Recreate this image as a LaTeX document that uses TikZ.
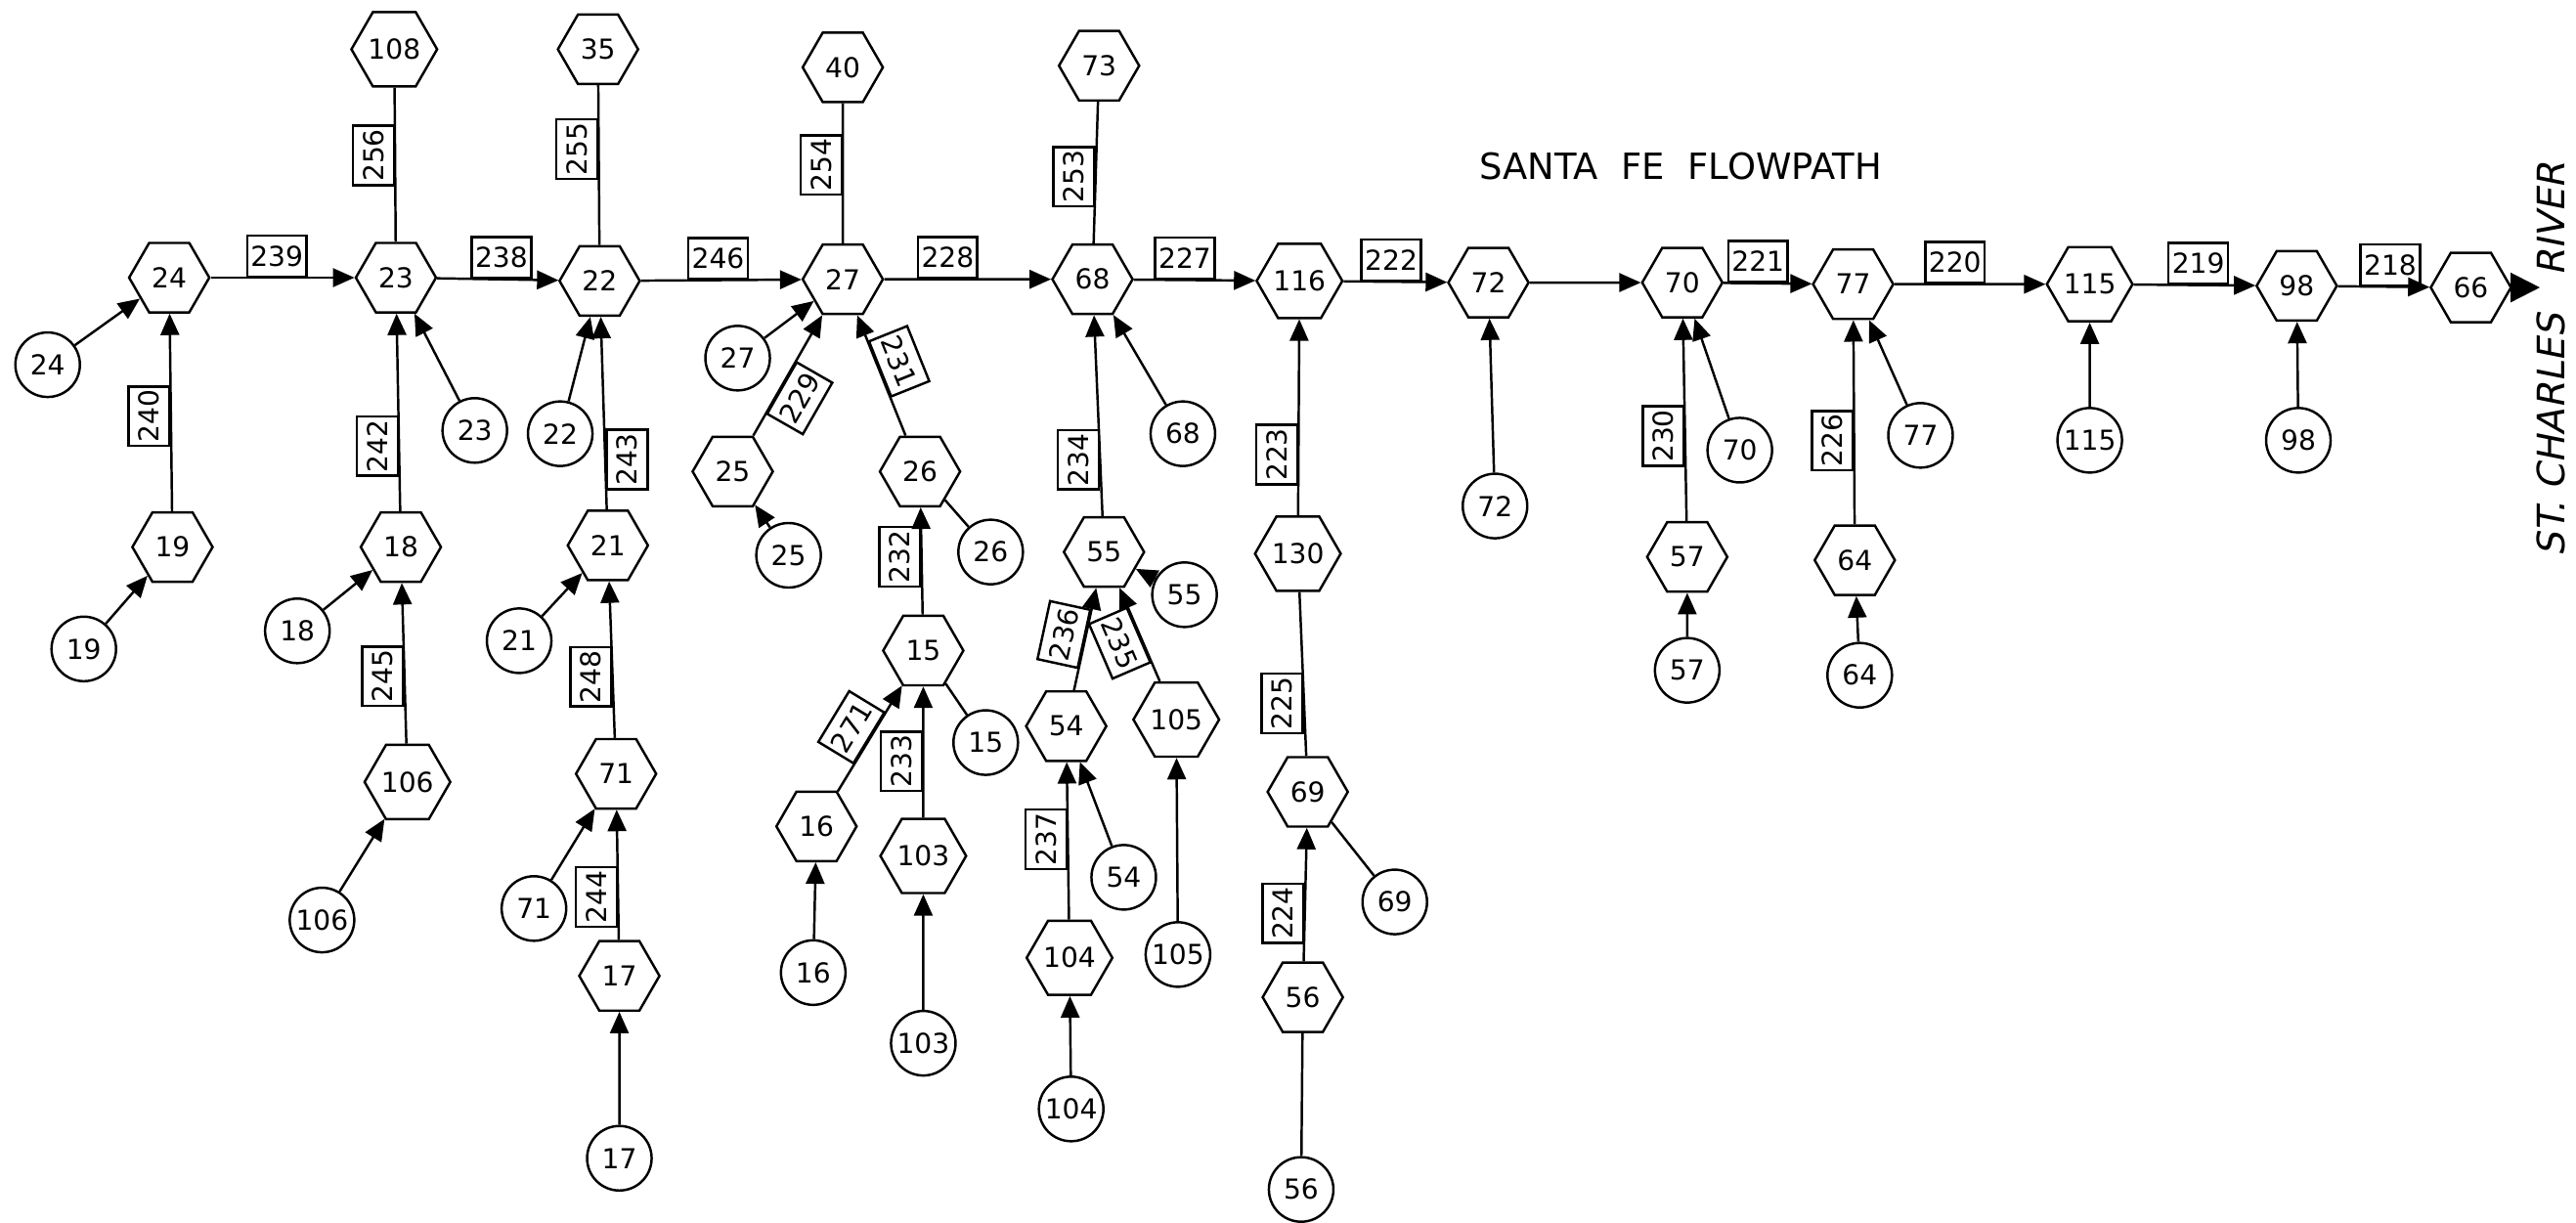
\documentclass[tikz,border=0pt]{standalone}
\usepackage{fontspec}
\setmainfont{DejaVu Sans}
\newfontfamily\slantfont[FakeSlant=0.2]{DejaVu Sans}
\usetikzlibrary{shapes.geometric,arrows.meta}

\tikzset{
  num/.style={font=\fontsize{8}{9}\selectfont},
  hx/.style={draw, num, regular polygon, regular polygon sides=6,
    minimum size=0.82cm, inner sep=0pt},
  cr/.style={draw, num, circle, minimum size=0.66cm, inner sep=0pt},
  lb/.style={draw, num, minimum width=0.6cm, minimum height=0.42cm, inner sep=1pt},
  hl/.style={lb, anchor=south},
  vl/.style={lb, rotate=90, anchor=south},
  vr/.style={lb, rotate=90, anchor=north},
  flow/.style={-{Triangle[length=0.22cm,width=0.19cm]}},
}

\begin{document}
\begin{tikzpicture}[x=0.016805cm, y=-0.016805cm, line width=0.7pt]
      \useasboundingbox (0,0) rectangle (1568,744);

      \node[hx] (H108) at (240,  30) {108};
      \node[hx] (H35)  at (364,  30) {35};
      \node[hx] (H40)  at (513,  41) {40};
      \node[hx] (H73)  at (669,  40) {73};

      \node[hx] (H24)  at (103,  169) {24};
      \node[hx] (H23)  at (241,  169) {23};
      \node[hx] (H22)  at (365,  171) {22};
      \node[hx] (H27)  at (513,  170) {27};
      \node[hx] (H68)  at (665,  170) {68};
      \node[hx] (H116) at (791,  171) {116};
      \node[hx] (H72)  at (906,  172) {72};
      \node[hx] (H70)  at (1024, 172) {70};
      \node[hx] (H77)  at (1128, 173) {77};
      \node[hx] (H115) at (1272, 173) {115};
      \node[hx] (H98)  at (1398, 174) {98};
      \node[hx] (H66)  at (1504, 175) {66};
      \coordinate (mouth) at (1546, 175);

      \node[font=\fontsize{10.5}{12}\selectfont] (title) at (1023, 101) {SANTA\ \ FE\ \ FLOWPATH};
      \node[rotate=90, font=\fontsize{11}{13}\selectfont\slantfont] (river) at (1553, 219)
        {ST.\ CHARLES\quad RIVER};

      \node[cr]  (C24)  at (29,  222) {24};
      \node[hx]  (H19)  at (105, 333) {19};
      \node[cr]  (C19)  at (51,  395) {19};
      \node[hx]  (H18)  at (244, 333) {18};
      \node[cr]  (C18)  at (181, 384) {18};
      \node[cr]  (C23)  at (289, 262) {23};
      \node[hx]  (H106) at (248, 476) {106};
      \node[cr]  (C106) at (196, 560) {106};
      \node[cr]  (C22)  at (341, 264) {22};
      \node[hx]  (H21)  at (370, 332) {21};
      \node[cr]  (C21)  at (316, 390) {21};
      \node[hx]  (H71)  at (375, 471) {71};
      \node[cr]  (C71)  at (325, 553) {71};
      \node[hx]  (H17)  at (377, 594) {17};
      \node[cr]  (C17)  at (377, 705) {17};

      \node[cr]  (C27)  at (449, 218) {27};
      \node[hx]  (H25)  at (446, 287) {25};
      \node[cr]  (C25)  at (480, 338) {25};
      \node[hx]  (H26)  at (560, 287) {26};
      \node[cr]  (C26)  at (603, 336) {26};
      \node[hx]  (H15)  at (562, 396) {15};
      \node[cr]  (C15)  at (600, 452) {15};
      \node[hx]  (H16)  at (497, 503) {16};
      \node[cr]  (C16)  at (495, 592) {16};
      \node[hx]  (H103) at (562, 521) {103};
      \node[cr]  (C103) at (562, 635) {103};

      \node[hx]  (H55)  at (672, 336) {55};
      \node[cr]  (C55)  at (721, 362) {55};
      \node[cr]  (C68)  at (720, 264) {68};
      \node[hx]  (H54)  at (649, 442) {54};
      \node[cr]  (C54)  at (684, 534) {54};
      \node[hx]  (H105) at (716, 438) {105};
      \node[cr]  (C105) at (717, 581) {105};
      \node[hx]  (H104) at (651, 583) {104};
      \node[cr]  (C104) at (652, 675) {104};
      \node[hx]  (H130) at (790, 337) {130};
      \node[hx]  (H69)  at (796, 482) {69};
      \node[cr]  (C69)  at (849, 549) {69};
      \node[hx]  (H56)  at (793, 607) {56};
      \node[cr]  (C56)  at (792, 724) {56};

      \node[cr]  (C72)  at (910,  308) {72};
      \node[cr]  (C70)  at (1059, 274) {70};
      \node[hx]  (H57)  at (1027, 339) {57};
      \node[cr]  (C57)  at (1027, 408) {57};
      \node[cr]  (C77)  at (1169, 265) {77};
      \node[hx]  (H64)  at (1129, 341) {64};
      \node[cr]  (C64)  at (1132, 411) {64};
      \node[cr]  (C115) at (1272, 268) {115};
      \node[cr]  (C98)  at (1399, 268) {98};

      \draw[flow] (H24)  -- node[hl, pos=0.46] {239} (H23);
      \draw[flow] (H23)  -- node[hl, pos=0.53] {238} (H22);
      \draw[flow] (H22)  -- node[hl, pos=0.48] {246} (H27);
      \draw[flow] (H27)  -- node[hl, pos=0.38] {228} (H68);
      \draw[flow] (H68)  -- node[hl, pos=0.42] {227} (H116);
      \draw[flow] (H116) -- node[hl, pos=0.46] {222} (H72);
      \draw[flow] (H72)  -- (H70);
      \draw[flow] (H70)  -- node[hl, pos=0.39] {221} (H77);
      \draw[flow] (H77)  -- node[hl, pos=0.4]  {220} (H115);
      \draw[flow] (H115) -- node[hl, pos=0.53] {219} (H98);
      \draw[flow] (H98)  -- node[hl, pos=0.57] {218} (H66);
      \draw[-{Triangle[length=0.3cm,width=0.3cm]}] (H66) -- (mouth);

      \draw (H23) -- node[vl, pos=0.56] {256} (H108);
      \draw (H22) -- node[vl, pos=0.6]  {255} (H35);
      \draw (H27) -- node[vl, pos=0.56] {254} (H40);
      \draw (H68) -- node[vl, pos=0.47] {253} (H73);

      \draw[flow] (C24)  -- (H24);
      \draw[flow] (H19)  -- node[vl, pos=0.48] {240} (H24);
      \draw[flow] (C19)  -- (H19);
      \draw[flow] (H18)  -- node[vl, pos=0.33] {242} (H23);
      \draw[flow] (C23)  -- (H23);
      \draw[flow] (C18)  -- (H18);
      \draw[flow] (H106) -- node[vl, pos=0.42] {245} (H18);
      \draw[flow] (C106) -- (H106);
      \draw[flow] (C22)  -- (H22);
      \draw[flow] (H21)  -- node[vr, pos=0.26] {243} (H22);
      \draw[flow] (C21)  -- (H21);
      \draw[flow] (H71)  -- node[vl, pos=0.39] {248} (H21);
      \draw[flow] (C71)  -- (H71);
      \draw[flow] (H17)  -- node[vl, pos=0.33] {244} (H71);
      \draw[flow] (C17)  -- (H17);

      \draw[flow] (C27)  -- (H27);
      \draw[flow] (H25)  -- node[lb, sloped, below, pos=0.4] {229} (H27);
      \draw[flow] (C25)  -- (H25);
      \draw[flow] (H26)  -- node[lb, sloped, above, pos=0.55] {231} (H27);
      \draw       (C26)  -- (H26);
      \draw[flow] (H15)  -- node[vl, pos=0.54] {232} (H26);
      \draw       (C15)  -- (H15);
      \draw[flow] (H16)  -- node[lb, sloped, above] {271} (H15);
      \draw[flow] (C16)  -- (H16);
      \draw[flow] (H103) -- node[vl, pos=0.43] {233} (H15);
      \draw[flow] (C103) -- (H103);

      \draw[flow] (H55)  -- node[vl, pos=0.28] {234} (H68);
      \draw[flow] (C68)  -- (H68);
      \draw[flow] (C55)  -- (H55);
      \draw[flow] (H54)  -- node[lb, sloped, above] {236} (H55);
      \draw[flow] (H105) -- node[lb, sloped, below] {235} (H55);
      \draw[flow] (H104) -- node[vl, pos=0.51] {237} (H54);
      \draw[flow] (C54)  -- (H54);
      \draw[flow] (C105) -- (H105);
      \draw[flow] (C104) -- (H104);
      \draw[flow] (H130) -- node[vl, pos=0.31] {223} (H116);
      \draw       (H69)  -- node[vl, pos=0.32] {225} (H130);
      \draw[flow] (H56)  -- node[vl, pos=0.36] {224} (H69);
      \draw       (C69)  -- (H69);
      \draw       (C56)  -- (H56);

      \draw[flow] (C72)  -- (H72);
      \draw[flow] (H57)  -- node[vl, pos=0.42] {230} (H70);
      \draw[flow] (C70)  -- (H70);
      \draw[flow] (C57)  -- (H57);
      \draw[flow] (H64)  -- node[vl, pos=0.41] {226} (H77);
      \draw[flow] (C77)  -- (H77);
      \draw[flow] (C64)  -- (H64);
      \draw[flow] (C115) -- (H115);
      \draw[flow] (C98)  -- (H98);
    \end{tikzpicture}
\end{document}
